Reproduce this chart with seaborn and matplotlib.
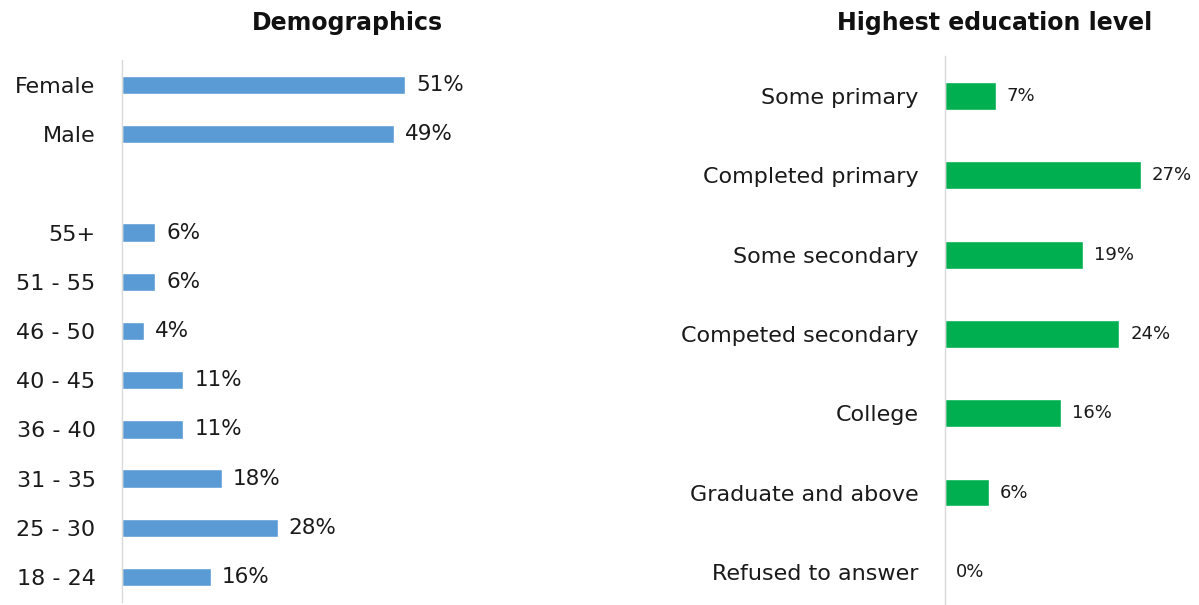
import matplotlib.pyplot as plt
import seaborn as sns
import pandas as pd

# demographics (top to bottom), blank row separates gender and age
demo_cats = ['Female', 'Male', '', '55+', '51 - 55', '46 - 50', '40 - 45',
             '36 - 40', '31 - 35', '25 - 30', '18 - 24']
demo_vals = [51, 49, None, 6, 6, 4, 11, 11, 18, 28, 16]

edu_cats = ['Some primary', 'Completed primary', 'Some secondary',
            'Competed secondary', 'College', 'Graduate and above',
            'Refused to answer']
edu_vals = [7, 27, 19, 24, 16, 6, 0]

sns.set_theme(style='white')
plt.rcParams['font.family'] = ['DejaVu Sans']

W, H = 1199, 605
fig = plt.figure(figsize=(W / 100, H / 100), dpi=100)

# axes placed in pixel coords
def px_axes(x0, y0, x1, y1):
    return fig.add_axes([x0 / W, 1 - y1 / H, (x1 - x0) / W, (y1 - y0) / H])

a1 = px_axes(122, 60.4, 572, 601.6)
a2 = px_axes(945, 56.4, 1199, 605)

d1 = pd.DataFrame({'cat': [c for c, v in zip(demo_cats, demo_vals) if v is not None],
                   'val': [v for v in demo_vals if v is not None]})
d2 = pd.DataFrame({'cat': edu_cats, 'val': edu_vals})

sns.barplot(data=d1, y='cat', x='val', order=demo_cats, color='#5B9BD5',
            width=0.37, saturation=1, ax=a1)
sns.barplot(data=d2, y='cat', x='val', order=edu_cats, color='#00B050',
            width=0.35, saturation=1, ax=a2)

a1.set_xlim(0, 81)
a1.set_ylim(10.5, -0.5)
a2.set_xlim(0, 35)
a2.set_ylim(6.418, -0.5)

for ax in [a1, a2]:
    ax.set_xlabel('')
    ax.set_ylabel('')
    ax.set_xticks([])
    for s in ['top', 'right', 'bottom']:
        ax.spines[s].set_visible(False)
    ax.spines['left'].set_color('#D9D9D9')
    ax.spines['left'].set_linewidth(1)
    ax.tick_params(axis='y', length=0, pad=19, labelsize=16, labelcolor='#1a1a1a')
    ax.patch.set_alpha(0)

for i, v in enumerate(demo_vals):
    if v is not None:
        a1.annotate(f'{v}%', (v, i), xytext=(8, 0), textcoords='offset points',
                    va='center', ha='left', fontsize=15.5, color='#1a1a1a')
for i, v in enumerate(edu_vals):
    a2.annotate(f'{v}%', (v, i), xytext=(8, 0), textcoords='offset points',
                va='center', ha='left', fontsize=13, color='#1a1a1a')

fig.text(347 / W, 1 - 23 / H, 'Demographics', ha='center', va='center',
         fontsize=17, fontweight='bold', color='#111111')
fig.text(995 / W, 1 - 23 / H, 'Highest education level', ha='center', va='center',
         fontsize=17, fontweight='bold', color='#111111')

fig.savefig('out.png', dpi=100)
